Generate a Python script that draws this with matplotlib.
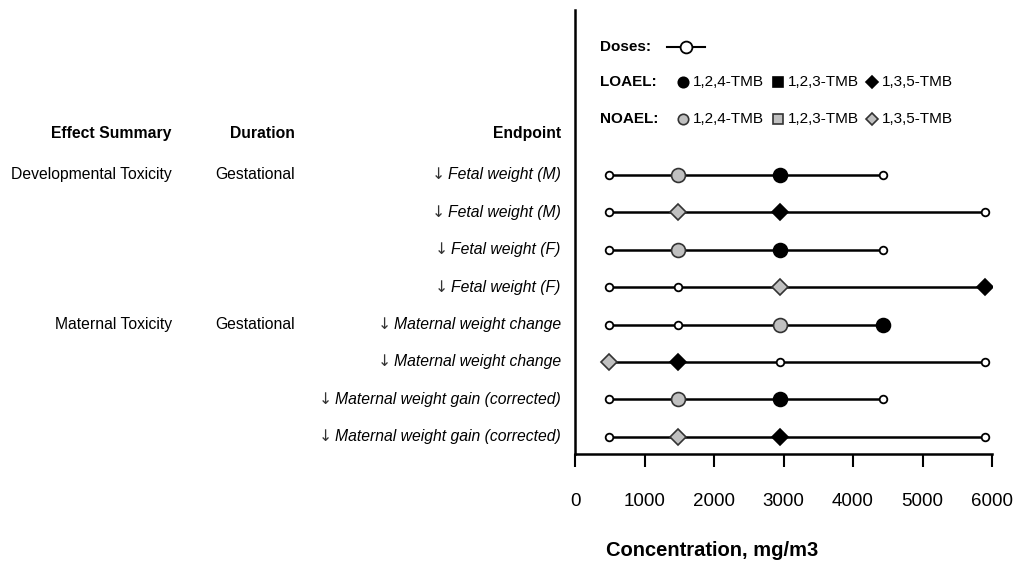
import numpy as np
import matplotlib
matplotlib.use("Agg")
import matplotlib.pyplot as plt
import matplotlib.transforms as mtransforms

plt.rcParams['font.family'] = ['Liberation Sans', 'DejaVu Sans']

# data
effects = ["Developmental Toxicity", "", "", "", "Maternal Toxicity", "", "", ""]
durations = ["Gestational", "", "", "", "Gestational", "", "", ""]
endpoints = ["Fetal weight (M)", "Fetal weight (M)", "Fetal weight (F)", "Fetal weight (F)",
             "Maternal weight change", "Maternal weight change",
             "Maternal weight gain (corrected)", "Maternal weight gain (corrected)"]
isomers = ["1,2,4", "1,3,5", "1,2,4", "1,3,5", "1,2,4", "1,3,5", "1,2,4", "1,3,5"]
doses = [[492, 1476, 2952, 4428],
         [492, 1476, 2952, 5904],
         [492, 1476, 2952, 4428],
         [492, 1476, 2952, 5904],
         [492, 1476, 2952, 4428],
         [492, 1476, 2952, 5904],
         [492, 1476, 2952, 4428],
         [492, 1476, 2952, 5904]]
noael = [1476, 1476, 1476, 2952, 2952, 492, 1476, 1476]
loael = [2952, 2952, 2952, 5904, 4428, 1476, 2952, 2952]
xticks = [0, 1000, 2000, 3000, 4000, 5000, 6000]
legend_isomers = ["1,2,4", "1,2,3", "1,3,5"]

shape = {"1,2,4": "o", "1,2,3": "s", "1,3,5": "D"}
gray = "#c0c0c0"
fs = 11.3

fig = plt.figure(figsize=(10.16, 5.69), dpi=100)
ax = fig.add_axes([0.566, 0.2021, 0.4104, 0.7803])

for i in range(len(endpoints)):
    d = doses[i]
    ax.plot([min(d), max(d)], [i, i], color="black", lw=1.8, zorder=1)
    for v in d:
        if v == noael[i] or v == loael[i]:
            continue
        ax.plot(v, i, marker="o", ms=5.5, mfc="white", mec="black", mew=1.3, zorder=2)
    m = shape[isomers[i]]
    sz = 10 if m == "o" else 8
    ax.plot(noael[i], i, marker=m, ms=sz, mfc=gray, mec="#333333", mew=1.2, zorder=3)
    ax.plot(loael[i], i, marker=m, ms=sz, mfc="black", mec="black", mew=1.2, zorder=3)

ax.set_xlim(0, 6000)
ax.set_ylim(7.46, -4.41)
ax.set_xticks(xticks)
ax.set_xticklabels([str(t) for t in xticks], fontsize=13.5)
ax.tick_params(axis="x", direction="out", length=9, width=1.5, pad=19)
ax.set_yticks([])
ax.spines["top"].set_visible(False)
ax.spines["right"].set_visible(False)
ax.spines["left"].set_linewidth(1.8)
ax.spines["bottom"].set_linewidth(1.8)
fig.text(0.701, 0.032, "Concentration, mg/m3", fontsize=14.5, fontweight="bold", ha="center", va="center")

# left-side table
tr = mtransforms.blended_transform_factory(fig.transFigure, ax.transData)
hy = -1.12
cx = [0.169, 0.290, 0.552]
for xx, lab in zip(cx, ["Effect Summary", "Duration", "Endpoint"]):
    ax.text(xx, hy, lab, transform=tr, fontsize=fs, fontweight="bold", ha="right", va="center", clip_on=False)

renderer = fig.canvas.get_renderer()
for i in range(len(endpoints)):
    if effects[i]:
        ax.text(cx[0], i, effects[i], transform=tr, fontsize=fs, ha="right", va="center", clip_on=False)
    if durations[i]:
        ax.text(cx[1], i, durations[i], transform=tr, fontsize=fs, ha="right", va="center", clip_on=False)
    t = ax.text(cx[2], i, endpoints[i], transform=tr, fontsize=fs, style="italic", ha="right", va="center", clip_on=False)
    bb = t.get_window_extent(renderer)
    ax.text((bb.x0 - 3) / fig.bbox.width, i, "\u2193", transform=tr, fontsize=fs,
            family=["DejaVu Sans"], color="#333333", ha="right", va="center", clip_on=False)

# legend
ly0 = -3.43
ax.text(360, ly0, "Doses:", fontsize=11, fontweight="bold", va="center", clip_on=False)
ax.plot([1324, 1870], [ly0, ly0], color="black", lw=1.5, clip_on=False)
ax.plot(1597, ly0, marker="o", ms=8.5, mfc="white", mec="black", mew=1.3, clip_on=False)
for lab, ly, fc, ec in [("LOAEL:", -2.48, "black", "black"), ("NOAEL:", -1.49, gray, "#333333")]:
    ax.text(360, ly, lab, fontsize=11, fontweight="bold", va="center", clip_on=False)
    for k, iso in enumerate(legend_isomers):
        x0 = [1554, 2921, 4273][k]
        m = shape[iso]
        ax.plot(x0, ly, marker=m, ms=7.5 if m == "o" else 6.5, mfc=fc, mec=ec, mew=1.2, clip_on=False)
        ax.text(x0 + 140, ly, iso + "-TMB", fontsize=11, va="center", clip_on=False)

fig.savefig("out.png", dpi=100)
